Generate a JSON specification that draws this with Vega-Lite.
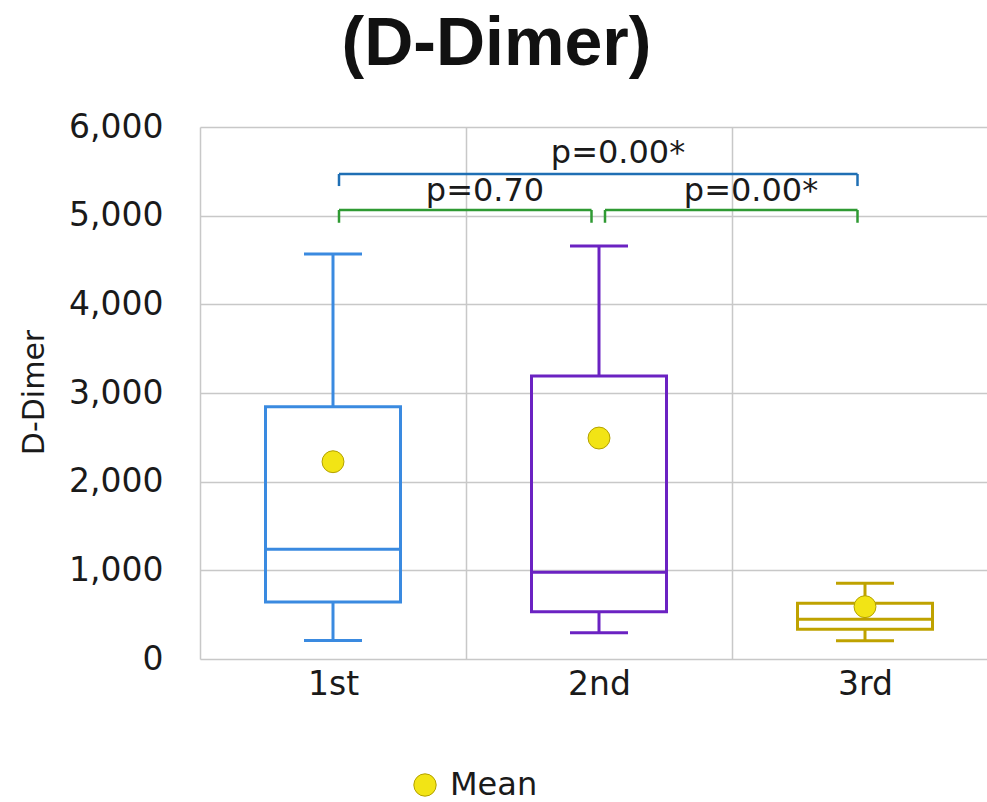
{
  "$schema": "https://vega.github.io/schema/vega-lite/v6.json",
  "width": 787,
  "height": 532,
  "autosize": {"type": "none"},
  "padding": {"left": 200, "top": 127, "right": 0, "bottom": 143},
  "background": "white",
  "title": {
    "text": "(D-Dimer)",
    "fontSize": 68,
    "font": "Liberation Sans",
    "fontWeight": "bold",
    "color": "#111111",
    "anchor": "middle",
    "dx": -97,
    "offset": 32
  },
  "config": {
    "view": {"stroke": null},
    "font": "DejaVu Sans",
    "tick": {"opacity": 1},
    "axis": {
      "gridColor": "#c8c8c8",
      "gridWidth": 1.5,
      "domain": false,
      "ticks": false,
      "labelColor": "#1a1a1a",
      "labelFont": "DejaVu Sans"
    }
  },
  "datasets": {
    "boxes": [
      {"group": "1st", "min": 208, "q1": 643, "median": 1238, "q3": 2845, "max": 4568, "mean": 2225, "series": "Mean"},
      {"group": "2nd", "min": 297, "q1": 533, "median": 978, "q3": 3192, "max": 4658, "mean": 2492, "series": "Mean"},
      {"group": "3rd", "min": 206, "q1": 335, "median": 448, "q3": 628, "max": 853, "mean": 590, "series": "Mean"}
    ],
    "brackets": [
      {"from": "1st", "to": "2nd", "top": 5064, "bottom": 4920, "label": "p=0.70", "mid": "2nd", "kind": "adjacent", "ly": 5169},
      {"from": "2nd", "to": "3rd", "top": 5064, "bottom": 4920, "label": "p=0.00*", "mid": "3rd", "kind": "adjacent", "ly": 5169},
      {"from": "1st", "to": "3rd", "top": 5470, "bottom": 5334, "label": "p=0.00*", "mid": "2nd", "kind": "span", "ly": 5594}
    ]
  },
  "layer": [
    {
      "data": {"name": "boxes"},
      "mark": {"type": "rule", "strokeWidth": 3},
      "encoding": {
        "x": {
          "field": "group",
          "type": "nominal",
          "bandPosition": 0.5,
          "scale": {"domain": ["1st", "2nd", "3rd"], "range": [0, 798], "paddingInner": 0, "paddingOuter": 0},
          "axis": {"title": null, "grid": true, "tickBand": "extent", "labelAngle": 0, "labelFontSize": 33, "labelPadding": 9}
        },
        "y": {
          "field": "q3",
          "type": "quantitative",
          "scale": {"domain": [0, 6000], "nice": false, "zero": true},
          "axis": {
            "values": [0, 1000, 2000, 3000, 4000, 5000, 6000],
            "format": ",.0f",
            "formatType": "number",
            "labelFontSize": 33,
            "labelPadding": 37,
            "title": "D-Dimer",
            "titleFont": "DejaVu Sans",
            "titleFontSize": 30,
            "titleFontWeight": "normal",
            "titleColor": "#1a1a1a",
            "titleX": -157,
            "titleY": 265,
            "titleAngle": -90,
            "titleAlign": "center",
            "titleBaseline": "alphabetic"
          }
        },
        "y2": {"field": "max"},
        "color": {
          "field": "group",
          "type": "nominal",
          "scale": {"domain": ["1st", "2nd", "3rd", "adjacent", "span"], "range": ["#3a8ae0", "#6b22c2", "#bfa200", "#2f9a33", "#1f6fb4"]},
          "legend": null
        }
      }
    },
    {
      "data": {"name": "boxes"},
      "mark": {"type": "rule", "strokeWidth": 3},
      "encoding": {
        "x": {"field": "group", "type": "nominal", "bandPosition": 0.5},
        "y": {"field": "min", "type": "quantitative"},
        "y2": {"field": "q1"},
        "color": {"field": "group", "type": "nominal", "legend": null}
      }
    },
    {
      "data": {"name": "boxes"},
      "mark": {"type": "tick", "orient": "horizontal", "size": 58, "thickness": 3, "opacity": 1},
      "encoding": {
        "x": {"field": "group", "type": "nominal"},
        "y": {"field": "max", "type": "quantitative"},
        "color": {"field": "group", "type": "nominal", "legend": null}
      }
    },
    {
      "data": {"name": "boxes"},
      "mark": {"type": "tick", "orient": "horizontal", "size": 58, "thickness": 3, "opacity": 1},
      "encoding": {
        "x": {"field": "group", "type": "nominal"},
        "y": {"field": "min", "type": "quantitative"},
        "color": {"field": "group", "type": "nominal", "legend": null}
      }
    },
    {
      "data": {"name": "boxes"},
      "mark": {"type": "bar", "size": 135, "fill": "transparent", "strokeWidth": 3},
      "encoding": {
        "x": {"field": "group", "type": "nominal"},
        "y": {"field": "q1", "type": "quantitative"},
        "y2": {"field": "q3"},
        "stroke": {
          "field": "group",
          "type": "nominal",
          "scale": {"domain": ["1st", "2nd", "3rd"], "range": ["#3a8ae0", "#6b22c2", "#bfa200"]},
          "legend": null
        }
      }
    },
    {
      "data": {"name": "boxes"},
      "mark": {"type": "tick", "orient": "horizontal", "size": 135, "thickness": 3, "opacity": 1},
      "encoding": {
        "x": {"field": "group", "type": "nominal"},
        "y": {"field": "median", "type": "quantitative"},
        "color": {"field": "group", "type": "nominal", "legend": null}
      }
    },
    {
      "data": {"name": "boxes"},
      "mark": {"type": "point", "filled": true, "shape": "circle", "size": 480, "opacity": 1, "stroke": "#b3a100", "strokeWidth": 1},
      "encoding": {
        "x": {"field": "group", "type": "nominal"},
        "y": {"field": "mean", "type": "quantitative"},
        "fill": {
          "field": "series",
          "type": "nominal",
          "scale": {"domain": ["Mean"], "range": ["#f2e415"]},
          "legend": {
            "title": null,
            "orient": "none",
            "legendX": 209,
            "legendY": 642,
            "padding": 0,
            "labelFontSize": 32,
            "labelFont": "DejaVu Sans",
            "labelColor": "#1a1a1a",
            "labelOffset": 9,
            "symbolSize": 500,
            "symbolType": "circle",
            "symbolStrokeColor": "#b3a100",
            "symbolStrokeWidth": 1
          }
        }
      }
    },
    {
      "data": {"name": "brackets"},
      "mark": {"type": "rule", "strokeWidth": 2.5, "xOffset": 6, "x2Offset": -7.5},
      "encoding": {
        "x": {"field": "from", "type": "nominal", "bandPosition": 0.5},
        "x2": {"field": "to", "bandPosition": 0.5},
        "y": {"field": "top", "type": "quantitative"},
        "color": {"field": "kind", "type": "nominal", "legend": null}
      }
    },
    {
      "data": {"name": "brackets"},
      "mark": {"type": "rule", "strokeWidth": 2.5, "xOffset": 6},
      "encoding": {
        "x": {"field": "from", "type": "nominal", "bandPosition": 0.5},
        "y": {"field": "top", "type": "quantitative"},
        "y2": {"field": "bottom"},
        "color": {"field": "kind", "type": "nominal", "legend": null}
      }
    },
    {
      "data": {"name": "brackets"},
      "mark": {"type": "rule", "strokeWidth": 2.5, "xOffset": -7.5},
      "encoding": {
        "x": {"field": "to", "type": "nominal", "bandPosition": 0.5},
        "y": {"field": "top", "type": "quantitative"},
        "y2": {"field": "bottom"},
        "color": {"field": "kind", "type": "nominal", "legend": null}
      }
    },
    {
      "data": {"name": "brackets"},
      "transform": [{"filter": "datum.kind === 'adjacent'"}],
      "mark": {"type": "text", "fontSize": 32, "font": "DejaVu Sans", "color": "#1a1a1a", "baseline": "alphabetic", "align": "center", "dx": 19},
      "encoding": {
        "x": {"field": "mid", "type": "nominal", "bandPosition": 0},
        "y": {"field": "ly", "type": "quantitative"},
        "text": {"field": "label"}
      }
    },
    {
      "data": {"name": "brackets"},
      "transform": [{"filter": "datum.kind === 'span'"}],
      "mark": {"type": "text", "fontSize": 32, "font": "DejaVu Sans", "color": "#1a1a1a", "baseline": "alphabetic", "align": "center", "dx": 19},
      "encoding": {
        "x": {"field": "mid", "type": "nominal", "bandPosition": 0.5},
        "y": {"field": "ly", "type": "quantitative"},
        "text": {"field": "label"}
      }
    }
  ]
}
